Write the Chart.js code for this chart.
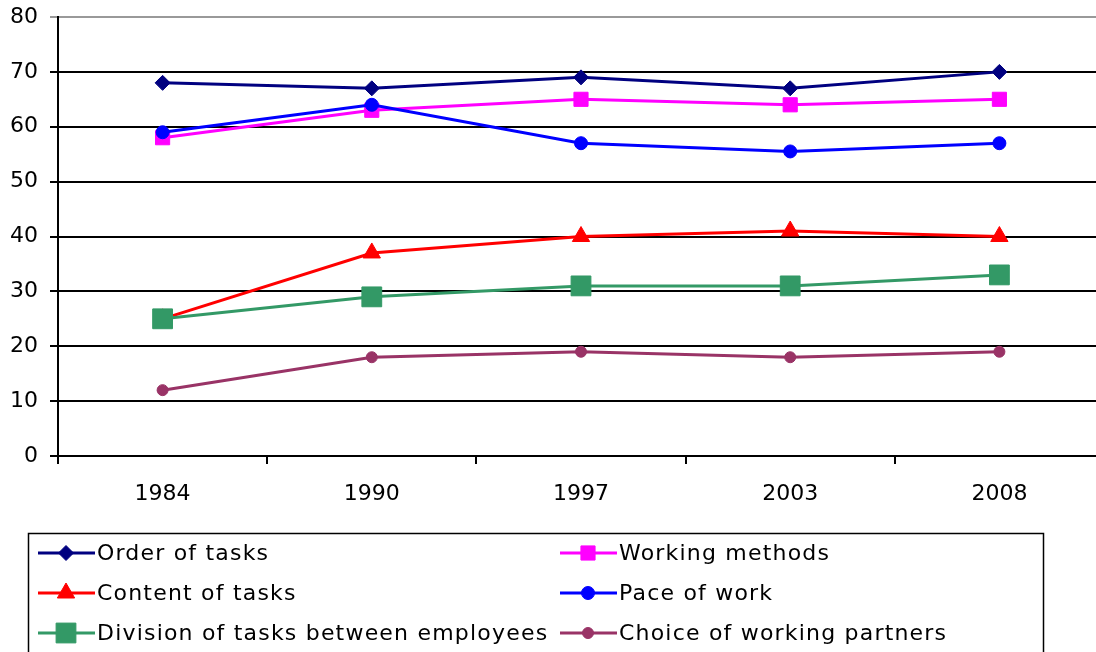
<!DOCTYPE html>
<html>
<head>
<meta charset="utf-8">
<script src="https://cdn.jsdelivr.net/npm/chart.js@4/dist/chart.umd.min.js"></script>
<style>
  html, body { margin: 0; padding: 0; background: #fff; overflow: hidden; }
  #chart { display: block; }
</style>
</head>
<body>
<canvas id="chart" width="1119" height="652"></canvas>
<script>
const years = ["1984", "1990", "1997", "2003", "2008"];

const orderOfTasks = [68, 67, 69, 67, 70];
const workingMethods = [58, 63, 65, 64, 65];
const contentOfTasks = [25, 37, 40, 41, 40];
const paceOfWork = [59, 64, 57, 55.5, 57];
const divisionOfTasks = [25, 29, 31, 31, 33];
const choiceOfPartners = [12, 18, 19, 18, 19];

const yTicks = [0, 10, 20, 30, 40, 50, 60, 70, 80];

// later series sit on top, like the original
function series(label, data, color, style, radius, drawOrder) {
    return {
        label: label,
        data: data,
        borderColor: color,
        backgroundColor: color,
        borderWidth: 3,
        tension: 0,
        fill: false,
        pointStyle: style,
        pointRadius: radius,
        pointHoverRadius: radius,
        pointBorderWidth: 1,
        order: drawOrder,
    };
}

// legend box drawn under the plot, two columns like the original
const boxLegend = {
    id: "boxLegend",
    afterDraw(chart) {
        const ctx = chart.ctx;
        const cols = [38, 560];
        const rows = [553, 593, 633];
        ctx.save();
        ctx.strokeStyle = "#000";
        ctx.lineWidth = 1.5;
        ctx.strokeRect(28.5, 533.5, 1015, 140);
        ctx.font = "22px 'DejaVu Sans'";
        ctx.letterSpacing = "1.2px";
        ctx.textBaseline = "middle";
        ctx.textAlign = "left";
        chart.data.datasets.forEach((ds, i) => {
            const x = cols[i % 2];
            const y = rows[Math.floor(i / 2)];
            ctx.strokeStyle = ds.borderColor;
            ctx.lineWidth = 3;
            ctx.beginPath();
            ctx.moveTo(x, y);
            ctx.lineTo(x + 57, y);
            ctx.stroke();
            ctx.fillStyle = ds.backgroundColor;
            ctx.strokeStyle = ds.borderColor;
            ctx.lineWidth = 1;
            Chart.helpers.drawPoint(ctx, { pointStyle: ds.pointStyle, radius: ds.pointRadius, rotation: 0, borderWidth: 1 }, x + 28, y);
            ctx.fillStyle = "#000";
            ctx.fillText(ds.label, x + 59, y + 1);
        });
        ctx.restore();
    },
};

new Chart(document.getElementById("chart").getContext("2d"), {
    type: "line",
    data: {
        labels: years,
        datasets: [
            series("Order of tasks", orderOfTasks, "#000080", "rectRot", 7.5, 6),
            series("Working methods", workingMethods, "#FF00FF", "rect", 10, 5),
            series("Content of tasks", contentOfTasks, "#FF0000", "triangle", 10, 4),
            series("Pace of work", paceOfWork, "#0000FF", "circle", 6.5, 3),
            series("Division of tasks between employees", divisionOfTasks, "#339966", "rect", 14, 2),
            series("Choice of working partners", choiceOfPartners, "#993366", "circle", 5.5, 1),
        ],
    },
    options: {
        responsive: false,
        animation: false,
        layout: { padding: { top: 17, right: 7, left: 0, bottom: 0 } },
        plugins: { legend: { display: false }, tooltip: { enabled: false } },
        scales: {
            x: {
                offset: true,
                grid: { offset: true, drawOnChartArea: false, drawTicks: true, tickLength: 8, color: "#000", lineWidth: 2 },
                border: { color: "#000", width: 2 },
                ticks: { color: "#000", font: { family: "DejaVu Sans", size: 22 }, padding: 17, maxRotation: 0 },
                afterFit(scale) { scale.height = 196; },
            },
            y: {
                min: 0,
                max: 80,
                afterBuildTicks(scale) { scale.ticks = yTicks.map(v => ({ value: v })); },
                grid: {
                    color: ctx => (ctx.tick && ctx.tick.value === 80 ? "#999" : "#000"),
                    lineWidth: 2,
                    tickLength: 8,
                },
                border: { color: "#000", width: 2 },
                ticks: { color: "#000", font: { family: "DejaVu Sans", size: 22 }, padding: 12 },
                afterFit(scale) {
                    scale.width = 58;
                    scale.paddingTop = 0;
                    scale.paddingBottom = 0;
                },
            },
        },
    },
    plugins: [boxLegend],
});
</script>
</body>
</html>
